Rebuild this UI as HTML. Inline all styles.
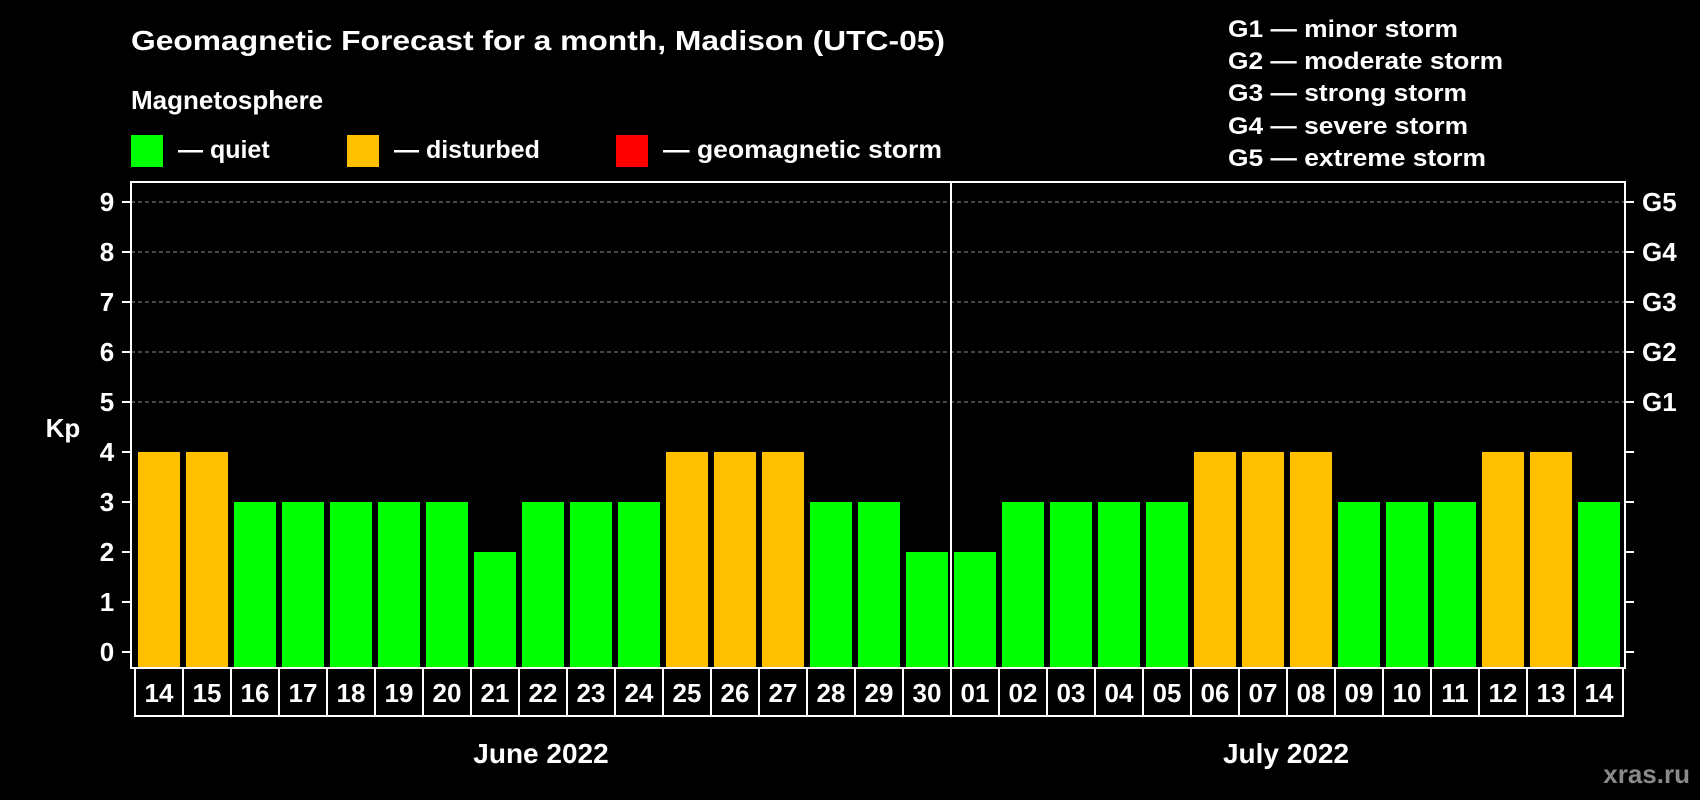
<!DOCTYPE html>
<html><head><meta charset="utf-8"><style>
html,body{margin:0;padding:0;background:#000;}
svg{display:block;font-family:"Liberation Sans",Arial,sans-serif;font-weight:bold;}
</style></head><body>
<svg id="chart" width="1700" height="800" viewBox="0 0 1700 800">
<rect x="0" y="0" width="1700" height="800" fill="#000"/>
<text x="131" y="50" fill="#fff" font-size="28" textLength="814" lengthAdjust="spacingAndGlyphs">Geomagnetic Forecast for a month, Madison (UTC-05)</text>
<text x="131" y="109" fill="#fff" font-size="26">Magnetosphere</text>
<g>
<rect x="131" y="135" width="32" height="32" fill="#00ff00"/>
<text x="178" y="158" fill="#fff" font-size="25">— quiet</text></g>
<g>
<rect x="347" y="135" width="32" height="32" fill="#ffc000"/>
<text x="394" y="158" fill="#fff" font-size="25">— disturbed</text></g>
<g>
<rect x="616" y="135" width="32" height="32" fill="#ff0000"/>
<text x="663" y="158" fill="#fff" font-size="25" textLength="279" lengthAdjust="spacingAndGlyphs">— geomagnetic storm</text></g>
<g fill="#fff" font-size="24">
<text x="1228" y="37" textLength="230" lengthAdjust="spacingAndGlyphs">G1 — minor storm</text>
<text x="1228" y="69" textLength="275" lengthAdjust="spacingAndGlyphs">G2 — moderate storm</text>
<text x="1228" y="101" textLength="239" lengthAdjust="spacingAndGlyphs">G3 — strong storm</text>
<text x="1228" y="134" textLength="240" lengthAdjust="spacingAndGlyphs">G4 — severe storm</text>
<text x="1228" y="166" textLength="258" lengthAdjust="spacingAndGlyphs">G5 — extreme storm</text>
</g>
<g id="grid"></g>
<g id="bars"></g>
<g id="axes"></g>
<text x="63" y="437" fill="#fff" font-size="26" text-anchor="middle">Kp</text>
<text x="541" y="763" fill="#fff" font-size="28" text-anchor="middle">June 2022</text>
<text x="1286" y="763" fill="#fff" font-size="28" text-anchor="middle">July 2022</text>
<text x="1690" y="783" fill="#8a8a8a" font-size="26" text-anchor="end">xras.ru</text>
</svg>
<script>
const days = ["14","15","16","17","18","19","20","21","22","23","24","25","26","27","28","29","30","01","02","03","04","05","06","07","08","09","10","11","12","13","14"];
const kpValues = [4,4,3,3,3,3,3,2,3,3,3,4,4,4,3,3,2,2,3,3,3,3,4,4,4,3,3,3,4,4,3];
const yTicks = [0,1,2,3,4,5,6,7,8,9];
const gLabels = ["G1","G2","G3","G4","G5"];
const gLevels = [5,6,7,8,9];
const monthSplit = 17;

const NS = "http://www.w3.org/2000/svg";
const plotL = 131, plotR = 1625, plotT = 182, plotB = 668;
const slot0 = 135, slotW = 48, barW = 42;
const y = v => 652 - v * 50;
const xSlot = i => slot0 + i * slotW;
function mk(tag, attrs, parent){const e=document.createElementNS(NS,tag);for(const k in attrs)e.setAttribute(k,attrs[k]);parent.appendChild(e);return e;}
function color(v){return v>=5?"#ff0000":(v>=4?"#ffc000":"#00ff00");}

const grid = document.getElementById('grid');
gLevels.forEach(v=>{
  const l = mk('line',{x1:plotL,x2:plotR,y1:y(v),y2:y(v),stroke:'#8c8c8c','stroke-width':1,'stroke-dasharray':'4,3'},grid);
  
  
});

const bars = document.getElementById('bars');
kpValues.forEach((v,i)=>{
  const r = mk('rect',{x:xSlot(i)+3,y:y(v),width:barW,height:plotB-y(v),fill:color(v)},bars);
  
  
});

const axes = document.getElementById('axes');
const frame = mk('rect',{x:plotL,y:plotT,width:plotR-plotL,height:plotB-plotT,fill:'none',stroke:'#fff','stroke-width':2},axes);


const div = mk('line',{x1:xSlot(monthSplit),x2:xSlot(monthSplit),y1:plotT,y2:plotB,stroke:'#fff','stroke-width':2},axes);


yTicks.forEach(v=>{
  const t1 = mk('line',{x1:122,x2:plotL,y1:y(v),y2:y(v),stroke:'#fff','stroke-width':2},axes);
  
  
  const t2 = mk('line',{x1:plotR,x2:1634,y1:y(v),y2:y(v),stroke:'#fff','stroke-width':2},axes);
  
  
  const tx = mk('text',{x:107,y:y(v)+9,fill:'#fff','font-size':26,'text-anchor':'middle'},axes);
  tx.textContent = v;
  
  
});
gLabels.forEach((g,i)=>{
  const tx = mk('text',{x:1642,y:y(gLevels[i])+9,fill:'#fff','font-size':26},axes);
  tx.textContent = g;
  
  
});
days.forEach((d,i)=>{
  const b = mk('rect',{x:xSlot(i),y:plotB,width:slotW,height:48,fill:'none',stroke:'#fff','stroke-width':2},axes);
  
  
  const tx = mk('text',{x:xSlot(i)+slotW/2,y:plotB+34,fill:'#fff','font-size':26,'text-anchor':'middle'},axes);
  tx.textContent = d;
  
  
});
</script>
</body></html>
